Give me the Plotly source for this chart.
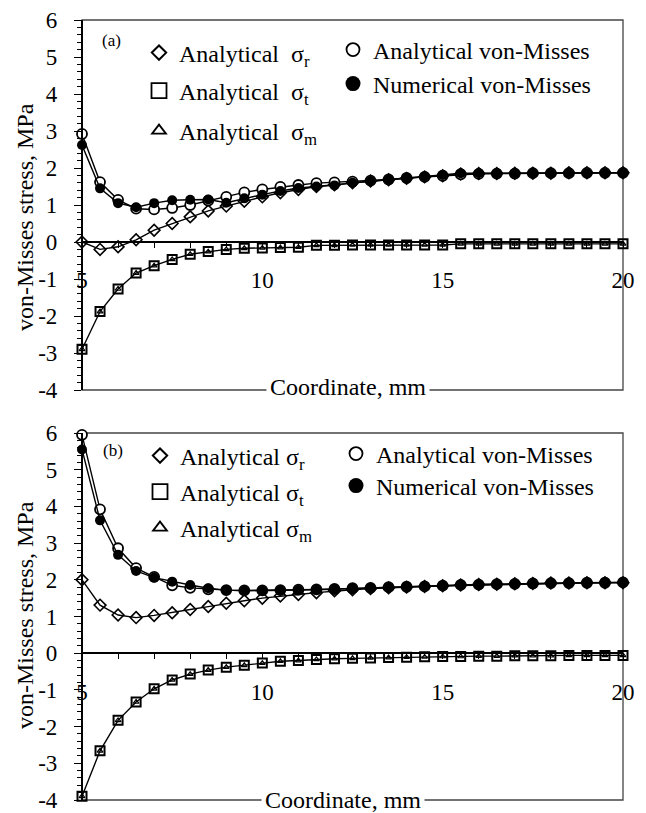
import plotly.graph_objects as go

# ---------------- data ----------------
x_mm = [5, 5.5, 6, 6.5, 7, 7.5, 8, 8.5, 9, 9.5,
        10, 10.5, 11, 11.5, 12, 12.5, 13, 13.5, 14, 14.5,
        15, 15.5, 16, 16.5, 17, 17.5, 18, 18.5, 19, 19.5, 20]

# panel (a)
sr_a = [0.00, -0.20, -0.13, 0.06, 0.32, 0.50, 0.68, 0.84, 0.97, 1.10,
        1.22, 1.33, 1.42, 1.50, 1.55, 1.60, 1.65, 1.68, 1.72, 1.76,
        1.79, 1.84, 1.85, 1.85, 1.86, 1.86, 1.86, 1.87, 1.87, 1.87, 1.87]
st_a = [-2.90, -1.88, -1.27, -0.84, -0.64, -0.47, -0.33, -0.26, -0.20, -0.17,
        -0.16, -0.15, -0.14, -0.09, -0.09, -0.08, -0.08, -0.08, -0.08, -0.08,
        -0.08, -0.05, -0.05, -0.05, -0.05, -0.05, -0.05, -0.05, -0.05, -0.05, -0.05]
sm_a = [-2.90, -1.88, -1.27, -0.84, -0.64, -0.47, -0.33, -0.26, -0.20, -0.17,
        -0.16, -0.15, -0.14, -0.09, -0.09, -0.08, -0.08, -0.08, -0.08, -0.08,
        -0.08, -0.05, -0.05, -0.05, -0.05, -0.05, -0.05, -0.05, -0.05, -0.05, -0.05]
vm_an_a = [2.92, 1.62, 1.14, 0.90, 0.88, 0.92, 1.00, 1.12, 1.22, 1.34,
           1.42, 1.49, 1.54, 1.59, 1.61, 1.63, 1.66, 1.69, 1.73, 1.76,
           1.79, 1.83, 1.84, 1.85, 1.85, 1.86, 1.86, 1.86, 1.87, 1.87, 1.87]
vm_nu_a = [2.62, 1.45, 1.05, 0.94, 1.05, 1.13, 1.14, 1.15, 1.06, 1.18,
           1.28, 1.38, 1.46, 1.50, 1.53, 1.60, 1.65, 1.68, 1.73, 1.77,
           1.81, 1.86, 1.86, 1.86, 1.86, 1.86, 1.86, 1.86, 1.86, 1.86, 1.87]

# panel (b)
sr_b = [2.00, 1.31, 1.04, 0.97, 1.03, 1.10, 1.19, 1.27, 1.36, 1.43,
        1.50, 1.56, 1.60, 1.65, 1.70, 1.73, 1.76, 1.78, 1.80, 1.82,
        1.84, 1.86, 1.87, 1.88, 1.89, 1.90, 1.91, 1.91, 1.92, 1.92, 1.92]
st_b = [-3.90, -2.66, -1.83, -1.33, -0.97, -0.73, -0.57, -0.46, -0.38, -0.33,
        -0.27, -0.22, -0.20, -0.17, -0.15, -0.14, -0.13, -0.12, -0.11, -0.10,
        -0.09, -0.09, -0.08, -0.08, -0.07, -0.07, -0.07, -0.06, -0.06, -0.06, -0.06]
sm_b = [-3.90, -2.66, -1.83, -1.33, -0.97, -0.73, -0.57, -0.46, -0.38, -0.33,
        -0.27, -0.22, -0.20, -0.17, -0.15, -0.14, -0.13, -0.12, -0.11, -0.10,
        -0.09, -0.09, -0.08, -0.08, -0.07, -0.07, -0.07, -0.06, -0.06, -0.06, -0.06]
vm_an_b = [5.95, 3.92, 2.86, 2.32, 2.08, 1.85, 1.78, 1.74, 1.72, 1.71,
           1.71, 1.72, 1.73, 1.74, 1.75, 1.77, 1.78, 1.80, 1.81, 1.82,
           1.84, 1.86, 1.87, 1.88, 1.89, 1.90, 1.91, 1.91, 1.92, 1.92, 1.93]
vm_nu_b = [5.55, 3.62, 2.68, 2.24, 2.06, 1.95, 1.86, 1.77, 1.72, 1.70,
           1.70, 1.71, 1.72, 1.73, 1.74, 1.76, 1.78, 1.79, 1.81, 1.82,
           1.84, 1.86, 1.87, 1.88, 1.89, 1.90, 1.91, 1.92, 1.92, 1.93, 1.93]

y_tickvals = [-4, -3, -2, -1, 0, 1, 2, 3, 4, 5, 6]
y_ticktext = ["-4", "-3", "-2", "-1", "0", "1", "2", "3", "4", "5", "6"]
x_tickvals = [5, 10, 15, 20]
x_ticktext = ["5", "10", "15", "20"]

Y_RANGE = [-4, 6]
X_RANGE = [5, 20]
Y_TITLE = "von-Misses stress, MPa"
X_TITLE = "Coordinate, mm"

FONT = "Liberation Serif"
BLACK = "black"

W, H = 646, 813
ML, MR, MT, MB = 82, 23, 20, 13
PW, PH = W - ML - MR, H - MT - MB

def py(p):  # pixel y -> paper y
    return (H - MB - p) / PH

def px(p):  # pixel x -> paper x
    return (p - ML) / PW

dom_a = [py(390), 1.0]
dom_b = [0.0, py(433)]

def zero_pos(dom):
    return dom[0] + (0 - Y_RANGE[0]) / (Y_RANGE[1] - Y_RANGE[0]) * (dom[1] - dom[0])

fig = go.Figure()

line = dict(color=BLACK, width=1.4)

def add_panel(xa, ya, sr, st, sm, vman, vmnu, legs, sub_sp):
    fig.add_trace(go.Scatter(x=x_mm, y=sr, xaxis=xa, yaxis=ya, mode="lines+markers",
                             line=line, cliponaxis=False, showlegend=False,
                             marker=dict(symbol="diamond-open", size=9, color=BLACK, line=dict(width=1.6))))
    fig.add_trace(go.Scatter(x=x_mm, y=st, xaxis=xa, yaxis=ya, mode="lines+markers",
                             line=line, cliponaxis=False, showlegend=False,
                             marker=dict(symbol="square-open", size=9, color=BLACK, line=dict(width=2))))
    fig.add_trace(go.Scatter(x=x_mm, y=sm, xaxis=xa, yaxis=ya, mode="markers",
                             cliponaxis=False, showlegend=False,
                             marker=dict(symbol="triangle-up-open", size=5, color=BLACK, line=dict(width=1.2))))
    fig.add_trace(go.Scatter(x=x_mm, y=vman, xaxis=xa, yaxis=ya, mode="lines+markers",
                             line=line, cliponaxis=False, showlegend=False,
                             marker=dict(symbol="circle", size=10, color="white", line=dict(width=1.8, color=BLACK))))
    fig.add_trace(go.Scatter(x=x_mm, y=vmnu, xaxis=xa, yaxis=ya, mode="lines+markers",
                             line=line, cliponaxis=False, showlegend=False,
                             marker=dict(symbol="circle", size=10, color=BLACK)))
    entries = [
        ("Analytical" + sub_sp + "σ<sub>r</sub>", dict(symbol="diamond-open", size=11, color=BLACK, line=dict(width=2))),
        ("Analytical" + sub_sp + "σ<sub>t</sub>", dict(symbol="square-open", size=15, color=BLACK, line=dict(width=1.8))),
        ("Analytical" + sub_sp + "σ<sub>m</sub>", dict(symbol="triangle-up-open", size=12, color=BLACK, line=dict(width=1.8))),
        ("Analytical von-Misses", dict(symbol="circle-open", size=13, color=BLACK, line=dict(width=1.8))),
        ("Numerical von-Misses", dict(symbol="circle", size=15, color=BLACK)),
    ]
    for (name, mk), lg in zip(entries, legs):
        fig.add_trace(go.Scatter(x=[None], y=[None], xaxis=xa, yaxis=ya, mode="markers", name=name,
                                 marker=mk, legend=lg))

legs_a = ["legend", "legend2", "legend3", "legend4", "legend5"]
legs_b = ["legend6", "legend7", "legend8", "legend9", "legend10"]
add_panel("x", "y", sr_a, st_a, sm_a, vm_an_a, vm_nu_a, legs_a, "&nbsp;&nbsp;")
add_panel("x2", "y2", sr_b, st_b, sm_b, vm_an_b, vm_nu_b, legs_b, " ")

def xaxis_def(dom):
    return dict(domain=[0, 1], range=X_RANGE, anchor="free", position=zero_pos(dom),
                automargin=False, ticklabeloverflow="allow",
                showline=True, linecolor=BLACK, linewidth=1.5,
                ticks="outside", ticklen=5, tickwidth=1.2, tickcolor=BLACK,
                tickmode="array", tickvals=x_tickvals, ticktext=x_ticktext,
                showgrid=False, zeroline=False,
                minor=dict(tickmode="linear", tick0=5, dtick=1, ticks="outside", ticklen=5,
                           tickwidth=1.2, tickcolor=BLACK, showgrid=False),
                tickfont=dict(family=FONT, size=23, color=BLACK), ticklabelstandoff=13)

def yaxis_def(dom):
    return dict(domain=dom, range=Y_RANGE, anchor="free", position=0, automargin=False,
                ticklabeloverflow="allow",
                showline=True, linecolor=BLACK, linewidth=2.2,
                ticks="outside", ticklen=7, tickwidth=1.2, tickcolor=BLACK,
                tickmode="array", tickvals=y_tickvals, ticktext=y_ticktext,
                showgrid=False, zeroline=False,
                minor=dict(tickmode="linear", tick0=0, dtick=0.2, ticks="outside", ticklen=4,
                           tickwidth=1, tickcolor=BLACK, showgrid=False),
                tickfont=dict(family=FONT, size=23, color=BLACK), ticklabelstandoff=12)

leg_common = dict(font=dict(family=FONT, size=24, color=BLACK), bgcolor="rgba(0,0,0,0)",
                  borderwidth=0, xanchor="left", yanchor="middle",
                  itemclick=False, itemdoubleclick=False)

leg_pos = {
    "legend": (139, 53), "legend2": (139, 91), "legend3": (139, 131),
    "legend4": (333, 50), "legend5": (333, 84),
    "legend6": (140, 456), "legend7": (140, 492), "legend8": (140, 528),
    "legend9": (336, 454), "legend10": (336, 486),
}
legend_layout = {k: dict(x=px(v[0]), y=py(v[1]), **leg_common) for k, v in leg_pos.items()}

fig.update_layout(
    width=W, height=H, margin=dict(l=ML, r=MR, t=MT, b=MB, autoexpand=False),
    paper_bgcolor="white", plot_bgcolor="white",
    font=dict(family=FONT, color=BLACK),
    xaxis=xaxis_def(dom_a), yaxis=yaxis_def(dom_a),
    xaxis2=xaxis_def(dom_b), yaxis2=yaxis_def(dom_b),
    **legend_layout,
)

for xa, ya in (("x", "y"), ("x2", "y2")):
    fig.add_shape(type="rect", xref=xa + " domain", yref=ya + " domain", x0=0, x1=1, y0=0, y1=1,
                  line=dict(color="#444", width=1.3), layer="below")

def label(text, x, y, size, **kw):
    fig.add_annotation(text=text, x=x, y=y, showarrow=False, xanchor="center", yanchor="middle",
                       font=dict(family=FONT, size=size, color=BLACK), **kw)

label("(a)", px(111), py(40), 17, xref="paper", yref="paper")
label("(b)", px(113), py(450), 17, xref="paper", yref="paper")
label(X_TITLE, px(348), 0, 24, xref="paper", yref="y domain", yshift=3, bgcolor="white", borderpad=3)
label(X_TITLE, px(343), 0, 24, xref="paper", yref="y2 domain", yshift=0, bgcolor="white", borderpad=3)
label(Y_TITLE, px(25), py(217), 24, xref="paper", yref="paper", textangle=-90)
label(Y_TITLE, px(25), py(615), 24, xref="paper", yref="paper", textangle=-90)

fig.write_html("out.html")
